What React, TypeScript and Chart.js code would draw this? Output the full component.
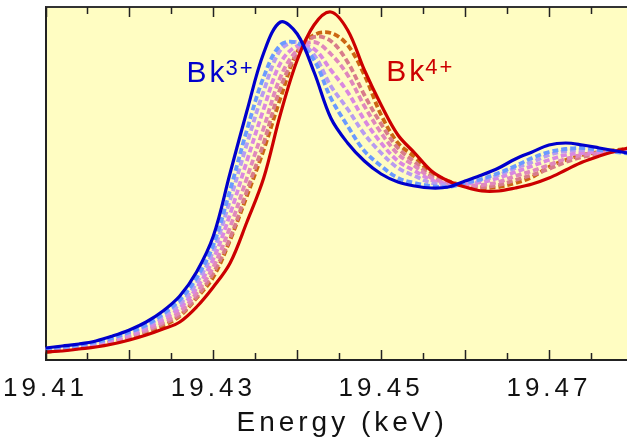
import React, { useEffect, useRef } from 'react';
import { Chart, registerables } from 'chart.js';

Chart.register(...registerables);

// Energy grid (keV)
const energies = [
  19.410, 19.412, 19.414, 19.416, 19.418, 19.420, 19.422, 19.424, 19.426, 19.428,
  19.430, 19.432, 19.434, 19.436, 19.438, 19.440, 19.442, 19.444, 19.446, 19.448,
  19.450, 19.452, 19.454, 19.456, 19.458, 19.460, 19.462, 19.464, 19.466, 19.468,
  19.470, 19.472, 19.474, 19.476, 19.478, 19.480,
];

// Normalized absorbance (arb. units)
const bk3 = [
  0.060, 0.070, 0.080, 0.095, 0.120, 0.150, 0.190, 0.245, 0.320, 0.440,
  0.620, 0.935, 1.245, 1.535, 1.690, 1.630, 1.440, 1.210, 1.085, 0.995,
  0.930, 0.890, 0.870, 0.860, 0.865, 0.895, 0.925, 0.960, 1.005, 1.040,
  1.075, 1.085, 1.075, 1.060, 1.045, 1.030,
];
const mixA = [
  0.055, 0.065, 0.075, 0.090, 0.110, 0.140, 0.175, 0.230, 0.300, 0.410,
  0.575, 0.850, 1.150, 1.415, 1.575, 1.585, 1.500, 1.310, 1.170, 1.045,
  0.970, 0.910, 0.885, 0.870, 0.865, 0.885, 0.905, 0.935, 0.970, 1.010,
  1.040, 1.055, 1.060, 1.050, 1.040, 1.030,
];
const mixB = [
  0.055, 0.060, 0.070, 0.085, 0.110, 0.135, 0.170, 0.220, 0.280, 0.385,
  0.545, 0.800, 1.080, 1.345, 1.550, 1.590, 1.525, 1.370, 1.255, 1.130,
  1.035, 0.960, 0.920, 0.885, 0.875, 0.885, 0.900, 0.925, 0.960, 0.990,
  1.025, 1.045, 1.050, 1.050, 1.045, 1.040,
];
const mixC = [
  0.050, 0.060, 0.070, 0.080, 0.100, 0.125, 0.160, 0.205, 0.260, 0.360,
  0.505, 0.730, 0.995, 1.255, 1.485, 1.570, 1.555, 1.450, 1.340, 1.200,
  1.085, 0.995, 0.945, 0.900, 0.880, 0.880, 0.890, 0.910, 0.940, 0.970,
  1.000, 1.025, 1.035, 1.040, 1.045, 1.045,
];
const mixD = [
  0.050, 0.055, 0.065, 0.075, 0.095, 0.120, 0.150, 0.190, 0.240, 0.335,
  0.465, 0.665, 0.910, 1.160, 1.415, 1.550, 1.590, 1.530, 1.425, 1.270,
  1.135, 1.030, 0.970, 0.910, 0.885, 0.875, 0.875, 0.890, 0.920, 0.945,
  0.975, 1.005, 1.025, 1.035, 1.045, 1.050,
];
const mixE = [
  0.045, 0.050, 0.060, 0.070, 0.090, 0.115, 0.145, 0.180, 0.225, 0.315,
  0.435, 0.610, 0.845, 1.085, 1.360, 1.535, 1.615, 1.595, 1.490, 1.325,
  1.180, 1.060, 0.990, 0.920, 0.885, 0.875, 0.865, 0.875, 0.900, 0.925,
  0.955, 0.990, 1.015, 1.030, 1.045, 1.055,
];
const mixF = [
  0.040, 0.050, 0.060, 0.075, 0.090, 0.110, 0.135, 0.170, 0.220, 0.310,
  0.415, 0.600, 0.820, 1.050, 1.310, 1.540, 1.625, 1.635, 1.575, 1.425,
  1.225, 1.085, 1.015, 0.935, 0.895, 0.870, 0.860, 0.865, 0.885, 0.915,
  0.965, 1.000, 1.025, 1.040, 1.050, 1.060,
];
const bk4 = [
  0.040, 0.045, 0.055, 0.065, 0.080, 0.100, 0.125, 0.155, 0.190, 0.265,
  0.365, 0.485, 0.690, 0.910, 1.230, 1.500, 1.675, 1.740, 1.650, 1.450,
  1.275, 1.125, 1.035, 0.945, 0.895, 0.865, 0.845, 0.845, 0.860, 0.880,
  0.910, 0.950, 0.990, 1.020, 1.045, 1.065,
];

const tickLabels = ['19.41', '19.43', '19.45', '19.47'];
const xMin = 19.41;
const xMax = 19.4793;
const yMin = 0;
const yMax = 1.765;

const FONT = "'Liberation Sans', Arial, sans-serif";
const BG = '#FFFDC2';
const BLUE = '#0000CC';
const RED = '#CC0000';

const labelsText = [
  { main: 'Bk', sup: '3+', x: 19.4268, y: 1.39, color: BLUE },
  { main: 'Bk', sup: '4+', x: 19.4506, y: 1.395, color: RED },
];

const framePlugin = {
  id: 'framePlugin',
  beforeDraw(chart: any) {
    const { ctx, chartArea: a } = chart;
    ctx.save();
    ctx.fillStyle = BG;
    ctx.fillRect(a.left, a.top, a.right - a.left, a.bottom - a.top);
    ctx.restore();
    ctx.letterSpacing = '4px';
  },
  afterDatasetsDraw(chart: any) {
    const { ctx, chartArea: a, scales } = chart;
    const xs = scales.x;
    const ys = scales.y;
    ctx.save();
    ctx.letterSpacing = '0px';
    // top border
    ctx.strokeStyle = '#333';
    ctx.lineWidth = 2;
    ctx.beginPath();
    ctx.moveTo(a.left, a.top);
    ctx.lineTo(a.right, a.top);
    ctx.stroke();
    // inward ticks
    ctx.lineWidth = 1.5;
    ctx.strokeStyle = '#222';
    for (const t of xs.ticks) {
      const v = t.value;
      const px = Math.round(xs.getPixelForValue(v)) + 0.5;
      const major = Math.abs(v * 100 - Math.round(v * 100)) < 1e-6;
      const len = major ? 10 : 7;
      ctx.beginPath();
      ctx.moveTo(px, a.bottom);
      ctx.lineTo(px, a.bottom - len);
      ctx.moveTo(px, a.top);
      ctx.lineTo(px, a.top + len);
      ctx.stroke();
    }
    // labels
    ctx.textBaseline = 'alphabetic';
    ctx.textAlign = 'left';
    for (const l of labelsText) {
      const px = xs.getPixelForValue(l.x);
      const py = ys.getPixelForValue(l.y);
      ctx.fillStyle = l.color;
      ctx.letterSpacing = '3px';
      ctx.font = `30px ${FONT}`;
      ctx.fillText(l.main, px, py);
      const w = ctx.measureText(l.main).width;
      ctx.font = `22px ${FONT}`;
      ctx.letterSpacing = '2px';
      ctx.fillText(l.sup, px + w - 2, py - 7);
    }
    ctx.restore();
  },
  afterDraw(chart: any) {
    chart.ctx.letterSpacing = '0px';
  },
};

function ds(label: string, values: number[], color: string, dashed: boolean) {
  return {
    label,
    data: energies.map((e, i) => ({ x: e, y: values[i] })),
    borderColor: color,
    backgroundColor: color,
    borderWidth: dashed ? 3.8 : 3.2,
    borderDash: dashed ? [6, 3] : [],
    pointRadius: 0,
    fill: false,
    tension: 0.35,
  };
}

export default function App() {
  const ref = useRef<HTMLCanvasElement>(null);
  useEffect(() => {
    if (!ref.current) return;
    const chart = new Chart(ref.current, {
      type: 'line',
      data: {
        datasets: [
          ds('Bk3+', bk3, BLUE, false),
          ds('Bk4+', bk4, RED, false),
          ds('mix A', mixA, '#6A9AFF', true),
          ds('mix B', mixB, '#B89CF0', true),
          ds('mix C', mixC, '#DA88E0', true),
          ds('mix D', mixD, '#E088BC', true),
          ds('mix E', mixE, '#D87C8A', true),
          ds('mix F', mixF, '#CC6612', true),
        ] as any,
      },
      options: {
        animation: false,
        responsive: false,
        maintainAspectRatio: false,
        layout: { padding: { top: 7, right: 0, left: 0, bottom: 0 } },
        plugins: { legend: { display: false }, tooltip: { enabled: false } },
        scales: {
          x: {
            type: 'linear',
            min: xMin,
            max: xMax,
            afterFit: (s: any) => { s.height = 82; },
            grid: { display: false, drawTicks: false },
            border: { display: true, color: '#222', width: 2 },
            ticks: {
              stepSize: 0.005,
              includeBounds: false,
              autoSkip: false,
              maxRotation: 0,
              padding: 13,
              color: '#111',
              font: { size: 26, family: FONT },
              callback: (value: any) => {
                const s = Number(value).toFixed(2);
                const v = Number(value);
                const onLabel = Math.abs(v * 1000 - Math.round(v * 100) * 10) < 1e-3;
                return onLabel && tickLabels.includes(s) ? s : '';
              },
            },
            title: {
              display: true,
              text: ' Energy (keV)',
              color: '#111',
              font: { size: 28, family: FONT },
              padding: { top: 0, bottom: 2 },
            },
          },
          y: {
            type: 'linear',
            min: yMin,
            max: yMax,
            afterFit: (s: any) => { s.width = 45; },
            grid: { display: false, drawTicks: false },
            border: { display: true, color: '#222', width: 2 },
            ticks: { display: false },
          },
        },
      } as any,
      plugins: [framePlugin],
    });
    return () => chart.destroy();
  }, []);
  return (
    <div style={{ position: 'fixed', left: 0, top: 0, width: 627, height: 442, background: '#fff' }}>
      <canvas ref={ref} width={627} height={442} style={{ width: 627, height: 442, display: 'block' }} />
    </div>
  );
}
